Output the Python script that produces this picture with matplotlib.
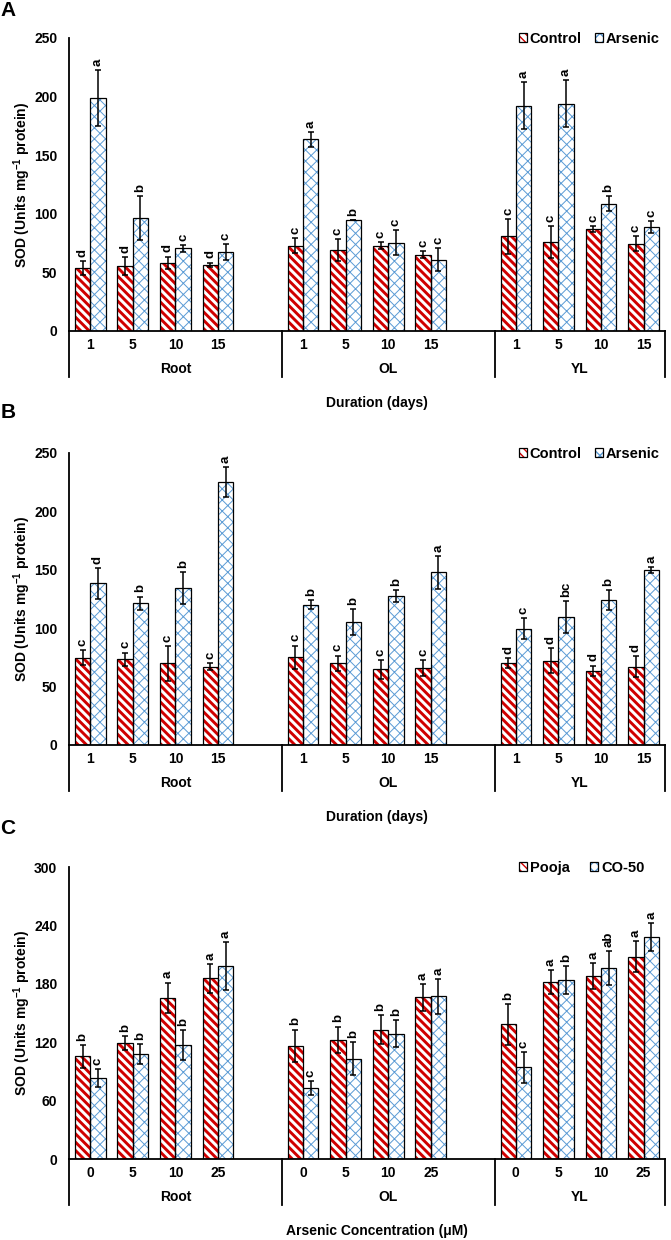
import matplotlib
matplotlib.use("Agg")
import matplotlib.pyplot as plt
from matplotlib.patches import Patch
from matplotlib.legend_handler import HandlerTuple

plt.rcParams["font.family"] = ["Liberation Sans", "DejaVu Sans"]
plt.rcParams["font.weight"] = "bold"
plt.rcParams["mathtext.fontset"] = "custom"
plt.rcParams["mathtext.rm"] = "Liberation Sans:bold"
plt.rcParams["mathtext.bf"] = "Liberation Sans:bold"
plt.rcParams["mathtext.it"] = "Liberation Sans:bold:italic"

RED = "#D00000"
BLUE = "#5B9BD5"
RED_HATCH = "\\" * 4
BLUE_HATCH = "xxx"

tissues = ["Root", "OL", "YL"]
days = ["1", "5", "10", "15"]
conc = ["0", "5", "10", "25"]

# Panel A: SOD, control vs arsenic over days
a_control = [53.7, 55.4, 58.0, 56.3, 72.9, 69.1, 72.9, 65.1, 80.6, 76.0, 86.9, 74.6]
a_control_err = [6, 7.5, 5.5, 2, 6, 9.5, 3, 3, 15, 13.4, 2.5, 6.5]
a_arsenic = [198.6, 96.3, 70.6, 67.4, 163.4, 94.9, 75.4, 60.9, 192.0, 193.7, 108.6, 88.6]
a_arsenic_err = [24, 19, 3, 7, 6.5, 0, 11, 9.7, 20, 20, 6.5, 5]
a_control_sig = ["d", "d", "d", "d", "c", "c", "c", "c", "c", "c", "c", "c"]
a_arsenic_sig = ["a", "b", "c", "c", "a", "b", "c", "c", "a", "a", "b", "c"]

# Panel B
b_control = [74.9, 73.4, 70.0, 66.9, 75.1, 70.0, 64.9, 66.0, 70.0, 72.3, 63.7, 66.9]
b_control_err = [6.5, 5.7, 15, 3, 10, 6.6, 8, 7, 4.3, 10.6, 4.3, 8.9]
b_arsenic = [138.3, 121.4, 134.6, 225.0, 120.0, 105.1, 127.7, 147.7, 99.7, 109.7, 124.3, 149.7]
b_arsenic_err = [13, 5.7, 13.7, 12.6, 4, 11, 5, 14.3, 9, 13.4, 8.6, 2.3]
b_control_sig = ["c", "c", "c", "c", "c", "c", "c", "c", "d", "d", "d", "d"]
b_arsenic_sig = ["d", "b", "b", "a", "b", "b", "b", "a", "c", "bc", "b", "a"]

# Panel C: Pooja vs CO-50 over arsenic concentration
c_pooja = [105.5, 119.2, 165.8, 185.6, 116.1, 122.6, 132.9, 166.1, 138.4, 181.8, 188.0, 207.9]
c_pooja_err = [11.6, 6.8, 15.4, 15, 16.8, 13.4, 14.7, 13.7, 21.2, 12, 13, 15.7]
c_co50 = [83.2, 107.9, 117.1, 198.0, 72.9, 103.1, 128.8, 167.1, 94.2, 184.2, 195.9, 228.1]
c_co50_err = [9.3, 10.3, 15, 24.7, 6.9, 17.1, 14, 17.8, 15.7, 14.4, 17.5, 14]
c_pooja_sig = ["b", "b", "a", "a", "b", "b", "b", "a", "b", "a", "a", "a"]
c_co50_sig = ["c", "b", "b", "a", "c", "b", "b", "a", "c", "b", "ab", "a"]

pos = [0, 1, 2, 3, 5, 6, 7, 8, 10, 11, 12, 13]
group_centers = [2, 7, 11.5]
separators = [-0.5, 4.5, 9.5, 13.5]
BW = 0.36
FS = 10


def hatched_bars(ax, x, vals, color, hatch, hlw):
    with plt.rc_context({"hatch.linewidth": hlw}):
        bars = ax.bar(x, vals, BW, color="white", edgecolor=color, hatch=hatch,
                      linewidth=0, zorder=2)
        for b in bars:
            if hasattr(b, "set_hatch_linewidth"):
                b.set_hatch_linewidth(hlw)
    ax.bar(x, vals, BW, color="none", edgecolor="black", linewidth=0.9, zorder=3)


def legend_handle(color, hatch, hlw):
    with plt.rc_context({"hatch.linewidth": hlw}):
        p = Patch(facecolor="white", edgecolor=color, hatch=hatch, linewidth=0)
        if hasattr(p, "set_hatch_linewidth"):
            p.set_hatch_linewidth(hlw)
    edge = Patch(facecolor="none", edgecolor="black", linewidth=0.9)
    return (p, edge)


def draw_panel(ax, s1, e1, sig1, s2, e2, sig2, cats, names, ymax, ystep,
               xlabel, colspace):
    x1 = [p - BW / 2 for p in pos]
    x2 = [p + BW / 2 for p in pos]
    hatched_bars(ax, x1, s1, RED, RED_HATCH, 2.1)
    hatched_bars(ax, x2, s2, BLUE, BLUE_HATCH, 0.7)
    for xs, vs, es, sg in [(x1, s1, e1, sig1), (x2, s2, e2, sig2)]:
        ax.errorbar(xs, vs, yerr=es, fmt="none", ecolor="black", elinewidth=1.1,
                    capsize=2.5, capthick=1.1, zorder=4)
        for xi, v, e, s in zip(xs, vs, es, sg):
            ax.annotate(s, (xi, v + e), xytext=(0, 3), textcoords="offset points",
                        rotation=90, ha="center", va="bottom", fontsize=9.5,
                        fontweight="bold")

    ax.set_xlim(-0.5, 13.5)
    ax.set_ylim(0, ymax)
    ax.set_yticks(range(0, ymax + 1, ystep))
    ax.set_xticks(pos, cats * 3)
    ax.tick_params(axis="x", length=0, pad=5, labelsize=FS)
    ax.tick_params(axis="y", length=0, pad=8.5, labelsize=FS)
    for side in ["top", "right"]:
        ax.spines[side].set_visible(False)
    ax.spines["left"].set_linewidth(1.3)
    ax.spines["bottom"].set_linewidth(1.3)

    trans = ax.get_xaxis_transform()
    for xs in separators:
        ax.plot([xs, xs], [0, -0.157], transform=trans, color="black", lw=1.3,
                clip_on=False)
    for gx, name in zip(group_centers, tissues):
        ax.text(gx, -0.13, name, transform=trans, ha="center", va="center",
                fontsize=FS, fontweight="bold")
    ax.text(0.517, -0.246, xlabel, transform=ax.transAxes, ha="center",
            va="center", fontsize=FS, fontweight="bold")

    ax.set_ylabel("SOD (Units mg$^{-1}$ protein)", fontsize=FS,
                  fontweight="bold", va="center")
    ax.yaxis.set_label_coords(-0.079, 0.5)

    handles = [legend_handle(RED, RED_HATCH, 2.1),
               legend_handle(BLUE, BLUE_HATCH, 0.7)]
    ax.legend(handles, names, handler_map={tuple: HandlerTuple(ndivide=1)},
              loc="center left", bbox_to_anchor=(0.755, 0.997), ncol=2,
              frameon=False, handlelength=0.55, handleheight=0.55,
              handletextpad=0.2, columnspacing=colspace, borderpad=0,
              borderaxespad=0, prop={"weight": "bold", "size": 10.5})


fig = plt.figure(figsize=(6.71, 12.40), dpi=100)
ax_a = fig.add_axes([0.1028, 0.7331, 0.888, 0.2363])
ax_b = fig.add_axes([0.1028, 0.3992, 0.888, 0.2355])
ax_c = fig.add_axes([0.1028, 0.0653, 0.888, 0.2355])

draw_panel(ax_a, a_control, a_control_err, a_control_sig, a_arsenic,
           a_arsenic_err, a_arsenic_sig, days, ["Control", "Arsenic"], 250, 50,
           "Duration (days)", 0.9)
draw_panel(ax_b, b_control, b_control_err, b_control_sig, b_arsenic,
           b_arsenic_err, b_arsenic_sig, days, ["Control", "Arsenic"], 250, 50,
           "Duration (days)", 0.9)
draw_panel(ax_c, c_pooja, c_pooja_err, c_pooja_sig, c_co50, c_co50_err,
           c_co50_sig, conc, ["Pooja", "CO-50"], 300, 60,
           "Arsenic Concentration (\u03bcM)", 1.4)

for letter, yy in [("A", 10), ("B", 413), ("C", 828)]:
    fig.text(8 / 671, 1 - yy / 1240, letter, fontsize=15, fontweight="bold",
             ha="center", va="center")

fig.savefig("out.png", dpi=100)
